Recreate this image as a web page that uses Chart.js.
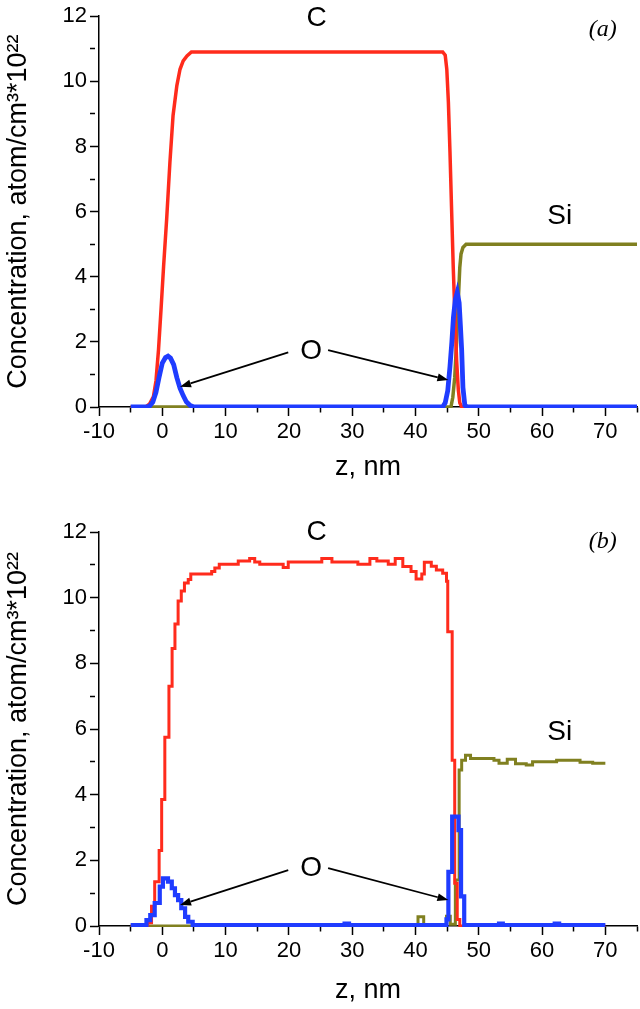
<!DOCTYPE html>
<html>
<head>
<meta charset="utf-8">
<script src="https://cdn.jsdelivr.net/npm/chart.js@4.4.0/dist/chart.umd.min.js"></script>
<style>
    html, body { margin: 0; padding: 0; background: #fff; }
    #wrap { position: relative; width: 640px; height: 1009px; }
    .box { position: absolute; left: 0; width: 640px; }
</style>
</head>
<body>
<div id="wrap">
    <div class="box" style="top:0;height:500px"><canvas id="chart_a" width="640" height="500"></canvas></div>
    <div class="box" style="top:500px;height:509px"><canvas id="chart_b" width="640" height="509"></canvas></div>
</div>
<script>
// (a) smooth profiles, z in nm, concentration in 1e22 atom/cm3
const zA_C = [-5, -3, -2.5, -2, -1.4, -1, -0.6, -0.2, 0.2, 0.7, 1.2, 1.7, 2.3, 2.8, 3.3, 3.9, 4.6,
              44.3, 44.7, 44.95, 45.2, 45.45, 45.7, 45.97, 46.24, 46.5, 46.77, 47.0, 47.3, 75];
const cA   = [0, 0, 0.02, 0.1, 0.32, 0.8, 1.75, 3.0, 4.3, 5.8, 7.5, 8.95, 9.87, 10.37, 10.63, 10.78, 10.9,
              10.9, 10.8, 10.37, 9.36, 7.84, 6.11, 4.28, 2.76, 1.44, 0.53, 0.13, 0, 0];
const zA_Si = [-5, 45.6, 45.9, 46.2, 46.5, 46.8, 47.0, 47.2, 47.5, 48.0, 75];
const siA   = [0, 0, 0.3, 0.9, 2.0, 3.4, 4.28, 4.7, 4.9, 5.0, 5.0];
const zA_O = [-5, -2.5, -2, -1.5, -1, -0.5, 0, 0.5, 0.9, 1.3, 1.8, 2.3, 2.8, 3.3, 3.8, 4.4, 5,
              44.3, 44.7, 45.1, 45.45, 45.75, 46.0, 46.3, 46.6, 46.9, 47.1, 47.3, 47.5, 47.8, 48.2, 75];
const oA   = [0, 0, 0.03, 0.15, 0.45, 0.92, 1.35, 1.52, 1.56, 1.5, 1.3, 0.9, 0.58, 0.35, 0.16, 0.05, 0,
              0, 0.13, 0.5, 1.24, 2.0, 2.76, 3.3, 3.52, 3.2, 2.5, 1.75, 0.6, 0.05, 0, 0];

// (b) step profiles: each point is where a new level starts
const zB_C = [-5, -2.3, -1.7, -1.2, -0.5, -0.1, 0.4, 1.05, 1.55, 2.0, 2.5, 3.0, 3.5, 4.1, 4.5, 7.8, 8.3, 9.0,
              12.0, 13.8, 14.6, 15.4, 19.1, 19.9, 25.2, 26.8, 30.9, 32.8, 33.9, 35.7, 36.8, 38.0, 39.3, 40.1,
              41.0, 41.4, 42.5, 43.3, 44.3, 44.9, 45.1, 45.8, 46.2, 46.6, 47.0, 70];
const cB   = [0, 0.1, 0.6, 1.35, 2.3, 3.85, 5.75, 7.3, 8.45, 9.2, 9.9, 10.2, 10.45, 10.55, 10.72, 10.8, 10.9, 11.02,
              11.12, 11.19, 11.09, 11.02, 10.92, 11.09, 11.19, 11.09, 11.02, 11.19, 11.12, 11.02, 11.19, 10.95, 10.8, 10.57,
              10.72, 11.08, 10.96, 10.84, 10.74, 10.5, 8.96, 5.05, 1.3, 0.2, 0, 0];
const zB_Si = [-5, 40.4, 41.3, 44.9, 45.5, 46.3, 46.9, 47.3, 47.9, 48.7, 52.4, 53.2, 54.5, 55.8, 57.5, 58.5, 62.3, 66.0, 68.0, 70];
const siB   = [0, 0.28, 0, 0.3, 0.05, 1.4, 4.75, 5.05, 5.2, 5.1, 5.05, 4.96, 5.08, 4.94, 4.9, 5.0, 5.05, 4.99, 4.96, 4.96];
const zB_O = [-5, -2.5, -1.9, -1.2, -0.4, 0.1, 0.9, 1.5, 2.0, 2.5, 3.0, 3.6, 4.1, 4.8, 28.8, 29.5,
              44.9, 45.2, 45.8, 46.8, 47.2, 47.7, 53.2, 53.8, 62.0, 62.7, 70];
const oB   = [0.03, 0.18, 0.33, 0.7, 1.2, 1.45, 1.35, 1.15, 0.94, 0.79, 0.54, 0.28, 0.13, 0.03, 0.07, 0.03,
              0.2, 1.65, 3.33, 2.92, 0.9, 0.03, 0.07, 0.03, 0.07, 0.03, 0.03];

// axis ticks
const xTicks = [-10, 0, 10, 20, 30, 40, 50, 60, 70];
const yTicks = [0, 2, 4, 6, 8, 10, 12];

const F = '"Liberation Sans", Arial, sans-serif';
const RED = '#ff2b1c', BLUE = '#1f3cff', OLIVE = '#808020';

function pts(xs, ys)
{
    return xs.map((x, i) => ({x: x, y: ys[i]}));
}

// labels and arrows, given in data units
const annot = {
    id: 'annot',
    afterDatasetsDraw(chart, args, o)
    {
        const ctx = chart.ctx, xs = chart.scales.x, ys = chart.scales.y;
        ctx.save();
        ctx.strokeStyle = '#000';
        ctx.fillStyle = '#000';
        ctx.lineWidth = 1.8;
        o.arrows.forEach(a => {
            const x1 = xs.getPixelForValue(a[0]), y1 = ys.getPixelForValue(a[1]);
            const x2 = xs.getPixelForValue(a[2]), y2 = ys.getPixelForValue(a[3]);
            const ang = Math.atan2(y2 - y1, x2 - x1);
            const hl = 11, hw = 4;
            const bx = x2 - hl * Math.cos(ang), by = y2 - hl * Math.sin(ang);
            ctx.beginPath();
            ctx.moveTo(x1, y1);
            ctx.lineTo(bx, by);
            ctx.stroke();
            ctx.beginPath();
            ctx.moveTo(x2, y2);
            ctx.lineTo(bx + hw * Math.sin(ang), by - hw * Math.cos(ang));
            ctx.lineTo(bx - hw * Math.sin(ang), by + hw * Math.cos(ang));
            ctx.closePath();
            ctx.fill();
        });
        ctx.textAlign = 'center';
        ctx.textBaseline = 'middle';
        o.labels.forEach(l => {
            ctx.font = l[3];
            ctx.fillText(l[0], xs.getPixelForValue(l[1]), ys.getPixelForValue(l[2]));
        });
        ctx.restore();
    }
};

function make_chart(id, sets, stepped, lay, ann)
{
    const minor = (c, list) => (c.tick && list.indexOf(c.tick.value) < 0) ? [5, 30] : [];
    return new Chart(document.getElementById(id), {
        type: 'line',
        data: {
            datasets: [
                {data: sets[0], borderColor: BLUE, borderWidth: lay.lw[0], stepped: stepped},
                {data: sets[1], borderColor: RED, borderWidth: lay.lw[1], stepped: stepped},
                {data: sets[2], borderColor: OLIVE, borderWidth: lay.lw[2], stepped: stepped}
            ]
        },
        options: {
            responsive: false,
            devicePixelRatio: 1,
            animation: false,
            layout: {padding: {top: lay.top, right: 3, left: 0, bottom: 0}},
            elements: {
                point: {radius: 0},
                line: {tension: 0, fill: false}
            },
            datasets: {line: {clip: {left: 0, top: 5, right: 0, bottom: 1}}},
            plugins: {
                legend: {display: false},
                tooltip: {enabled: false},
                annot: ann
            },
            scales: {
                x: {
                    type: 'linear', min: -10, max: 75,
                    ticks: {
                        stepSize: 5, autoSkip: false, maxRotation: 0, color: '#000', padding: 3,
                        font: {family: F, size: 22},
                        callback: v => xTicks.indexOf(v) >= 0 ? v : ''
                    },
                    grid: {
                        drawOnChartArea: false, tickLength: 9, tickColor: '#000', tickWidth: 1.5,
                        tickBorderDash: c => minor(c, xTicks)
                    },
                    border: {display: true, color: '#000', width: 1.5},
                    title: {
                        display: true, text: 'z, nm', color: '#000',
                        font: {family: F, size: 27}, padding: {top: 0, bottom: lay.xpad}
                    },
                    afterFit: s => { s.height = lay.xh; }
                },
                y: {
                    min: 0, max: 12,
                    ticks: {
                        stepSize: 1, autoSkip: false, color: '#000', padding: 3,
                        font: {family: F, size: 22},
                        callback: v => yTicks.indexOf(v) >= 0 ? v : ''
                    },
                    grid: {
                        drawOnChartArea: false, tickLength: 9, tickColor: '#000', tickWidth: 1.5,
                        tickBorderDash: c => minor(c, yTicks)
                    },
                    border: {display: true, color: '#000', width: 1.5},
                    title: {
                        display: true, text: 'Concentration, atom/cm\u00B3*10\u00B2\u00B2', color: '#000',
                        font: {family: F, size: 27}, padding: {top: 2, bottom: 0}
                    },
                    afterFit: s => { s.width = 99; }
                }
            }
        },
        plugins: [annot]
    });
}

const big = '28px ' + F;
const ital = 'italic 24px "Liberation Serif", "Times New Roman", serif';

// Chart (a)
make_chart('chart_a',
    [pts(zA_O, oA), pts(zA_C, cA), pts(zA_Si, siA)], false,
    {top: 13, xh: 93, xpad: 16, lw: [4.8, 3.5, 3.5]},
    {
        arrows: [[19.9, 1.68, 2.8, 0.62], [26.2, 1.75, 45.2, 0.83]],
        labels: [['C', 24.4, 11.95, big], ['Si', 62.8, 5.86, big], ['O', 23.5, 1.72, big], ['(a)', 69.6, 11.6, ital]]
    });

// Chart (b)
make_chart('chart_b',
    [pts(zB_O, oB), pts(zB_C, cB), pts(zB_Si, siB)], true,
    {top: 32, xh: 83, xpad: 2, lw: [4.2, 3, 3]},
    {
        arrows: [[19.9, 1.70, 2.8, 0.64], [26.2, 1.76, 45.2, 0.79]],
        labels: [['C', 24.4, 12.0, big], ['Si', 62.8, 5.9, big], ['O', 23.5, 1.77, big], ['(b)', 69.6, 11.7, ital]]
    });
</script>
</body>
</html>
